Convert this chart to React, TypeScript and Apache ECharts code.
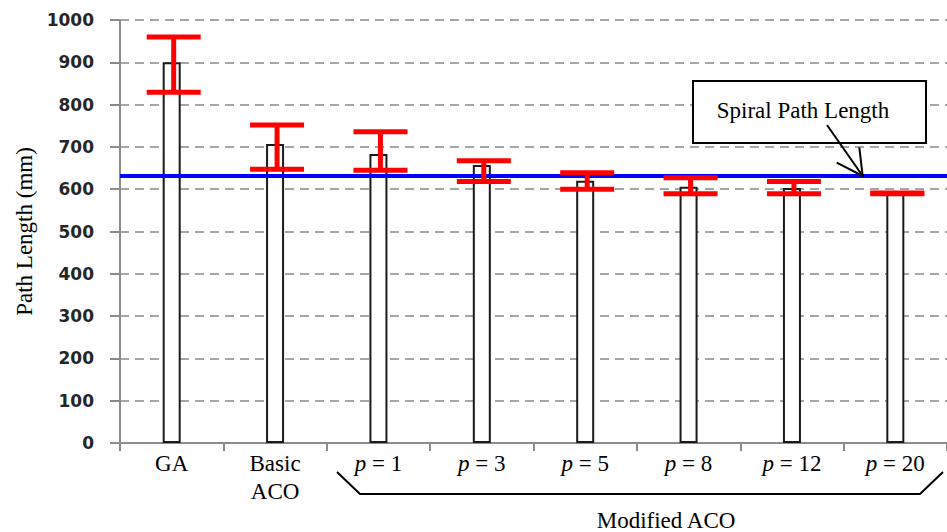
import React, { useEffect, useRef } from "react";
import * as echarts from "echarts";

const categories = ["GA", "Basic\nACO", "p = 1", "p = 3", "p = 5", "p = 8", "p = 12", "p = 20"];
const meanLengths = [900, 707, 683, 657, 620, 606, 603, 590];
const errorLow = [829, 647, 645, 618, 600, 589, 589, 589];
const errorHigh = [960, 752, 736, 667, 639, 627, 618, 591];
const spiralPathLength = 631;
const yTicks = [0, 1000, 100]; // min, max, interval

const SERIF = '"Liberation Serif", "Times New Roman", serif';

export default function App() {
  const ref = useRef<HTMLDivElement>(null);

  useEffect(() => {
    if (!ref.current) return;
    const chart = echarts.init(ref.current, null, { renderer: "svg" });

    const errData = categories.map((_, i) => [i, errorLow[i], errorHigh[i]]);

    const option: any = {
      animation: false,
      backgroundColor: "#ffffff",
      grid: { left: 120, top: 20, width: 832, height: 423 },
      xAxis: {
        type: "category",
        data: categories,
        boundaryGap: true,
        axisLine: { show: true, lineStyle: { color: "#8c8c8c", width: 2 } },
        axisTick: { show: true, interval: 0, length: 8, lineStyle: { color: "#8c8c8c", width: 2 } },
        axisLabel: {
          interval: 0,
          margin: 6,
          color: "#000",
          fontFamily: SERIF,
          fontSize: 23,
          lineHeight: 28,
          formatter: (v: string) => {
            if (v.startsWith("p = ")) return "{i|p} = " + v.slice(4);
            return v;
          },
          rich: {
            i: { fontStyle: "italic", fontFamily: SERIF, fontSize: 23, lineHeight: 28, color: "#000" },
          },
        },
      },
      yAxis: {
        type: "value",
        min: yTicks[0],
        max: yTicks[1],
        interval: yTicks[2],
        name: "Path Length (mm)",
        nameLocation: "middle",
        nameRotate: 90,
        nameGap: 78,
        nameTextStyle: { fontFamily: SERIF, fontSize: 23, color: "#000" },
        axisLine: { show: true, lineStyle: { color: "#8c8c8c", width: 2 } },
        axisTick: { show: true, length: 10, lineStyle: { color: "#8c8c8c", width: 2 } },
        axisLabel: {
          margin: 26,
          color: "#262626",
          fontFamily: '"DejaVu Sans", Verdana, sans-serif',
          fontWeight: "bold",
          fontSize: 17,
          formatter: (v: number) => String(v),
        },
        splitLine: {
          show: true,
          lineStyle: { color: "#a6a6a6", width: 2, type: [9, 6] },
        },
      },
      series: [
        {
          type: "bar",
          data: meanLengths,
          barWidth: 18,
          z: 2,
          itemStyle: { color: "#ffffff", borderColor: "#1a1a1a", borderWidth: 2 },
          markLine: {
            silent: true,
            symbol: ["none", "none"],
            label: { show: false },
            lineStyle: { color: "#0000ff", width: 4, type: "solid" },
            data: [{ yAxis: spiralPathLength }],
          },
        },
        {
          type: "custom",
          z: 5,
          data: errData,
          encode: { x: 0, y: [1, 2] },
          renderItem: (params: any, api: any) => {
            const idx = api.value(0);
            const lo = api.coord([idx, api.value(1)]);
            const hi = api.coord([idx, api.value(2)]);
            const cx = lo[0] + 2;
            const hw = 27;
            const style = { stroke: "#ff0000", lineWidth: 5 };
            return {
              type: "group",
              children: [
                { type: "line", shape: { x1: cx, y1: hi[1], x2: cx, y2: lo[1] }, style },
                { type: "line", shape: { x1: cx - hw, y1: hi[1], x2: cx + hw, y2: hi[1] }, style },
                { type: "line", shape: { x1: cx - hw, y1: lo[1], x2: cx + hw, y2: lo[1] }, style },
              ],
            };
          },
        },
      ],
      graphic: [
        {
          type: "rect",
          z: 100,
          shape: { x: 693, y: 81, width: 233, height: 62 },
          style: { fill: "#ffffff", stroke: "#000000", lineWidth: 2 },
        },
        {
          type: "text",
          z: 101,
          x: 803,
          y: 110,
          style: {
            text: "Spiral Path Length",
            font: '23px "Liberation Serif"',
            fill: "#000",
            textAlign: "center",
            textVerticalAlign: "middle",
          },
        },
        {
          type: "line",
          z: 101,
          shape: { x1: 827, y1: 125, x2: 862.7, y2: 176 },
          style: { stroke: "#000", lineWidth: 2 },
        },
        {
          type: "polyline",
          z: 101,
          shape: { points: [[836.7, 162.7], [862.7, 176], [859.3, 147.3]] },
          style: { stroke: "#000", lineWidth: 2, fill: "none" },
        },
        {
          type: "polyline",
          z: 101,
          shape: { points: [[337, 472], [360, 494], [920, 494], [943, 472]] },
          style: { stroke: "#000", lineWidth: 2, fill: "none" },
        },
        {
          type: "text",
          z: 101,
          x: 666,
          y: 520,
          style: {
            text: "Modified ACO",
            font: '23px "Liberation Serif"',
            fill: "#000",
            textAlign: "center",
            textVerticalAlign: "middle",
          },
        },
      ],
    };

    chart.setOption(option);
    return () => chart.dispose();
  }, []);

  return (
    <div
      ref={ref}
      style={{ position: "fixed", left: 0, top: 0, width: 947, height: 532, background: "#fff" }}
    />
  );
}
